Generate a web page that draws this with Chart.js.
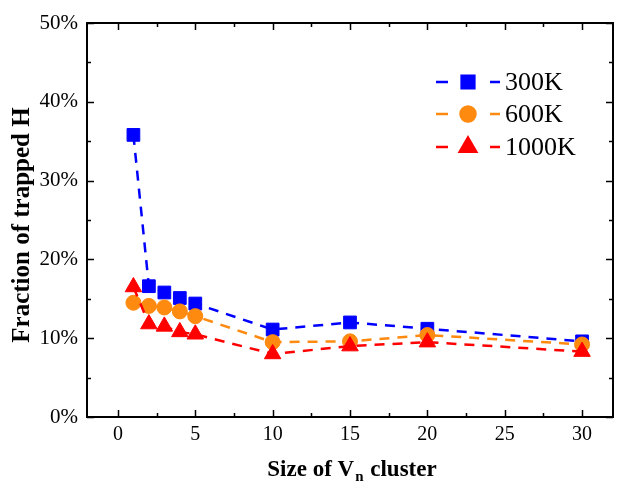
<!DOCTYPE html>
<html>
<head>
<meta charset="utf-8">
<script src="https://cdn.jsdelivr.net/npm/chart.js@4.4.1/dist/chart.umd.min.js"></script>
<style>
html,body{margin:0;padding:0;background:#fff;}
#wrap{width:617px;height:488px;position:relative;}
</style>
</head>
<body>
<div id="wrap"><canvas id="c" width="617" height="488"></canvas></div>
<script>
const sizes = [1, 2, 3, 4, 5, 10, 15, 20, 30];
const frac300 = [35.8, 16.6, 15.8, 15.1, 14.4, 11.1, 12.0, 11.2, 9.6];
const frac600 = [14.5, 14.1, 13.9, 13.4, 12.8, 9.5, 9.6, 10.4, 9.2];
const frac1000 = [16.5, 11.8, 11.5, 10.8, 10.5, 8.0, 9.0, 9.5, 8.3];
const seriesNames = ['300K', '600K', '1000K'];
const xTicks = [0, 5, 10, 15, 20, 25, 30];
const yTicks = [0, 10, 20, 30, 40, 50];
const xTitleParts = ['Size of V', 'n', ' cluster'];
const yTitle = 'Fraction of trapped H';

const SERIF = '"Liberation Serif", "Times New Roman", serif';

function mk(label, data, color, style, radius, order) {
  return {
    label, order,
    data: sizes.map((s, i) => ({x: s, y: data[i]})),
    borderColor: color, backgroundColor: color,
    borderWidth: 2.5, borderDash: [10, 8],
    pointStyle: style, pointRadius: radius, pointHoverRadius: radius,
    pointBorderWidth: 1, pointBorderColor: color,
    tension: 0, fill: false
  };
}

const datasets = [
  mk(seriesNames[0], frac300, '#0000ff', 'rect', 9, 2),
  mk(seriesNames[1], frac600, '#ff8a10', 'circle', 7.5, 1),
  mk(seriesNames[2], frac1000, '#ff0000', 'triangle', 9.5, 0)
];

const framePlugin = {
  id: 'frame',
  afterDraw(chart) {
    const ctx = chart.ctx;
    const a = chart.chartArea;
    const xs = chart.scales.x, ys = chart.scales.y;
    ctx.save();
    ctx.strokeStyle = '#000';
    ctx.lineWidth = 2;
    ctx.strokeRect(a.left, a.top, a.right - a.left, a.bottom - a.top);
    ctx.lineWidth = 1.5;
    ctx.beginPath();
    for (let v = 0; v <= 30; v += 2.5) {
      const px = Math.round(xs.getPixelForValue(v)) + 0.5;
      const len = (v % 5 === 0) ? 7 : 4;
      ctx.moveTo(px, a.bottom); ctx.lineTo(px, a.bottom - len);
      ctx.moveTo(px, a.top); ctx.lineTo(px, a.top + len);
    }
    for (let v = 0; v <= 50; v += 5) {
      const py = Math.round(ys.getPixelForValue(v)) + 0.5;
      const len = (v % 10 === 0) ? 7 : 4;
      ctx.moveTo(a.left, py); ctx.lineTo(a.left + len, py);
      ctx.moveTo(a.right, py); ctx.lineTo(a.right - len, py);
    }
    ctx.stroke();

    // axis titles
    ctx.fillStyle = '#000';
    const big = 'bold 23px ' + SERIF, small = 'bold 15px ' + SERIF;
    ctx.textBaseline = 'alphabetic';
    ctx.font = big;
    const w0 = ctx.measureText(xTitleParts[0]).width;
    ctx.font = small;
    const w1 = ctx.measureText(xTitleParts[1]).width;
    ctx.font = big;
    const w2 = ctx.measureText(xTitleParts[2]).width;
    let x0 = 352 - (w0 + w1 + 2 + w2) / 2;
    const by = 476;
    ctx.textAlign = 'left';
    ctx.fillText(xTitleParts[0], x0, by);
    ctx.font = small;
    ctx.fillText(xTitleParts[1], x0 + w0 + 1, by + 5);
    ctx.font = big;
    ctx.fillText(xTitleParts[2], x0 + w0 + w1 + 2, by);

    ctx.save();
    ctx.translate(23, 225);
    ctx.rotate(-Math.PI / 2);
    ctx.textAlign = 'center';
    ctx.textBaseline = 'middle';
    ctx.font = 'bold 25px ' + SERIF;
    ctx.fillText(yTitle, 0, 0);
    ctx.restore();

    // legend
    const rows = [82, 114, 147];
    chart.data.datasets.forEach((ds, i) => {
      const y = rows[i];
      ctx.save();
      ctx.strokeStyle = ds.borderColor;
      ctx.lineWidth = 2.5;
      ctx.beginPath();
      ctx.moveTo(436, y); ctx.lineTo(448, y);
      ctx.moveTo(490, y); ctx.lineTo(500, y);
      ctx.stroke();
      ctx.fillStyle = ds.backgroundColor;
      Chart.helpers.drawPoint(ctx, {pointStyle: ds.pointStyle, radius: ds.pointRadius, rotation: 0, borderWidth: 1}, 468, y);
      ctx.fill();
      ctx.restore();
      ctx.fillStyle = '#000';
      ctx.font = '26px ' + SERIF;
      ctx.textAlign = 'left';
      ctx.textBaseline = 'middle';
      ctx.fillText(ds.label, 505, y + 1);
    });
    ctx.restore();
  }
};

new Chart(document.getElementById('c'), {
  type: 'line',
  data: {datasets},
  options: {
    responsive: false,
    animation: false,
    events: [],
    layout: {autoPadding: false, padding: {top: 23, right: 4, left: 0, bottom: 0}},
    plugins: {legend: {display: false}, tooltip: {enabled: false}},
    scales: {
      x: {
        type: 'linear', min: -2, max: 32,
        afterBuildTicks: s => { s.ticks = xTicks.map(v => ({value: v})); },
        afterFit: s => { s.height = 71; s.paddingLeft = 0; s.paddingRight = 0; },
        grid: {display: false, drawTicks: false},
        border: {display: false},
        ticks: {padding: 6, color: '#000', font: {family: SERIF, size: 20}, maxRotation: 0}
      },
      y: {
        type: 'linear', min: 0, max: 50,
        afterBuildTicks: s => { s.ticks = yTicks.map(v => ({value: v})); },
        afterFit: s => { s.width = 87; s.paddingTop = 0; s.paddingBottom = 0; },
        grid: {display: false, drawTicks: false},
        border: {display: false},
        ticks: {padding: 9, color: '#000', font: {family: SERIF, size: 21}, callback: v => v + '%'}
      }
    }
  },
  plugins: [framePlugin]
});
</script>
</body>
</html>
